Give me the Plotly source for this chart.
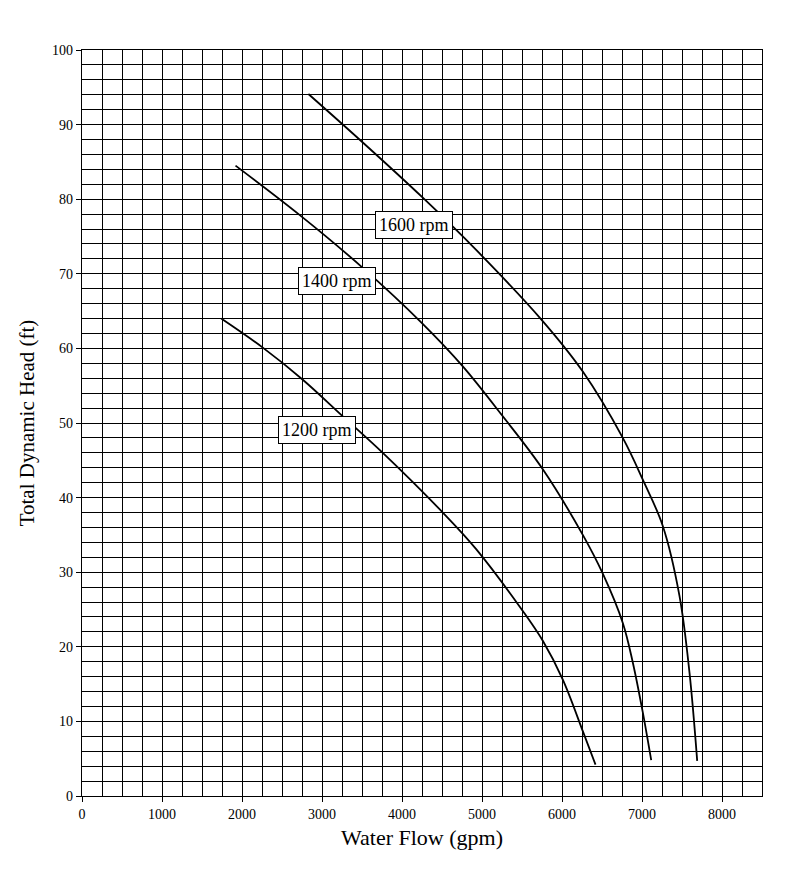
import plotly.graph_objects as go

# ポンプ性能曲線 (回転数ごと)
flow_1600 = [2830, 3510, 4260, 4927, 5740, 6260, 6760, 7010, 7260, 7469, 7594, 7690]
head_1600 = [94.1, 87.6, 80.2, 73.2, 63.9, 56.9, 48.0, 42.4, 36.2, 26.8, 16.5, 4.7]

flow_1400 = [1919, 2719, 3510, 4240, 4760, 5260, 5760, 6260, 6510, 6760, 6885, 7010, 7115]
head_1400 = [84.5, 77.9, 70.8, 63.5, 57.6, 50.9, 43.8, 35.0, 29.8, 23.2, 17.9, 11.2, 4.8]

flow_1200 = [1740, 2260, 2760, 3260, 3760, 4510, 4927, 5510, 5760, 6010, 6260, 6419]
head_1200 = [64.0, 60.1, 55.8, 50.9, 46.0, 38.0, 33.1, 24.8, 20.8, 15.6, 8.7, 4.2]

labels = ["1600 rpm", "1400 rpm", "1200 rpm"]
label_x = [4152, 3185, 2935]
label_y = [76.6, 69.0, 49.0]

serif = "Liberation Serif, Times New Roman, serif"

fig = go.Figure()
for fx, hy, name in [(flow_1600, head_1600, labels[0]),
                     (flow_1400, head_1400, labels[1]),
                     (flow_1200, head_1200, labels[2])]:
    fig.add_trace(go.Scatter(x=fx, y=hy, mode="lines", name=name,
                             line=dict(color="black", width=1.8, shape="spline", smoothing=1.0),
                             showlegend=False))

for txt, lx, ly in zip(labels, label_x, label_y):
    fig.add_annotation(x=lx, y=ly, text=txt, showarrow=False,
                       font=dict(family=serif, size=18, color="black"),
                       bgcolor="white", bordercolor="black", borderwidth=1, borderpad=3)

axis_common = dict(
    showgrid=True, gridcolor="black", gridwidth=1.3,
    showline=True, linecolor="black", linewidth=1.3, mirror=True,
    ticks="outside", ticklen=5, tickcolor="black", tickwidth=1.3,
    zeroline=False,
    tickfont=dict(family=serif, size=14, color="black"),
)

fig.update_xaxes(range=[0, 8500], dtick=1000, tick0=0,
                 minor=dict(dtick=250, showgrid=True, gridcolor="black", gridwidth=1.3),
                 title=dict(text="Water Flow (gpm)", font=dict(family=serif, size=22, color="black"),
                            standoff=8),
                 **axis_common)
fig.update_yaxes(range=[0, 100], dtick=10, tick0=0,
                 minor=dict(dtick=2, showgrid=True, gridcolor="black", gridwidth=1.3),
                 title=dict(text="Total Dynamic Head (ft)", font=dict(family=serif, size=21, color="black"),
                            standoff=11),
                 **axis_common)

# ページ余白(8px)を考慮した配置
fig.update_layout(
    width=802, height=863,
    margin=dict(l=74, r=48, t=42, b=75),
    plot_bgcolor="white", paper_bgcolor="white",
    font=dict(family=serif, color="black"),
)

fig.write_html("out.html")
